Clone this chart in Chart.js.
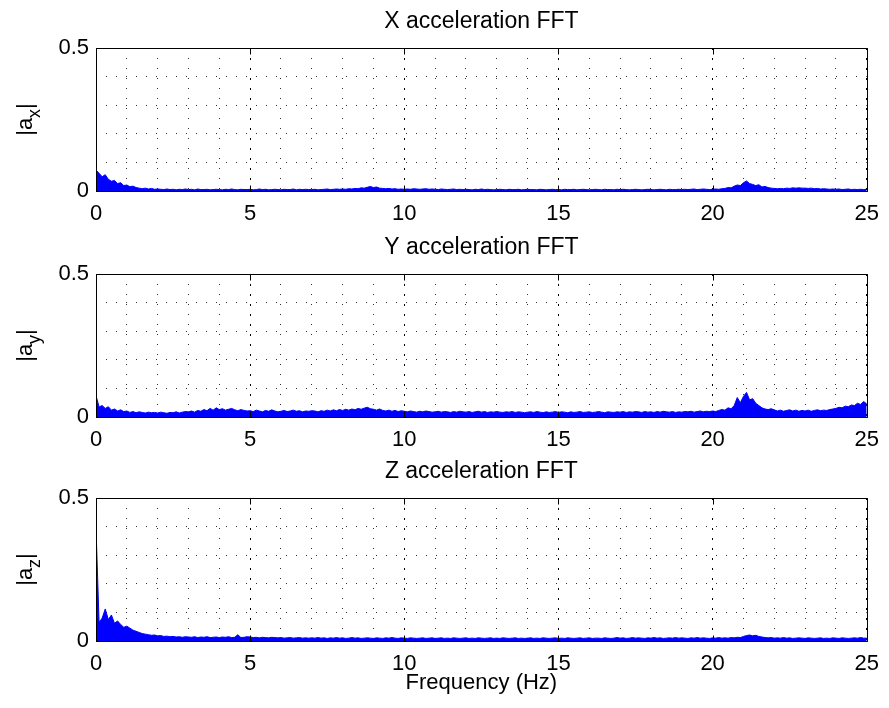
<!DOCTYPE html>
<html>
<head>
<meta charset="utf-8">
<script src="https://cdn.jsdelivr.net/npm/chart.js@4.4.0/dist/chart.umd.min.js"></script>
<style>
    body { margin: 0; background: #fff; }
    #wrap { position: relative; width: 889px; height: 708px; }
    canvas { position: absolute; left: 0; }
</style>
</head>
<body>
<div id="wrap">
    <canvas id="chartX" width="889" height="230" style="top:0px"></canvas>
    <canvas id="chartY" width="889" height="225" style="top:230px"></canvas>
    <canvas id="chartZ" width="889" height="253" style="top:455px"></canvas>
</div>
<script>
// frequency bins (Hz)
const freqs = [
    0, 0.1, 0.2, 0.3, 0.4, 0.5, 0.6, 0.7, 0.8, 0.9,
    1, 1.1, 1.2, 1.3, 1.4, 1.5, 1.6, 1.7, 1.8, 1.9,
    2, 2.1, 2.2, 2.3, 2.4, 2.5, 2.6, 2.7, 2.8, 2.9,
    3, 3.1, 3.2, 3.3, 3.4, 3.5, 3.6, 3.7, 3.8, 3.9,
    4, 4.1, 4.2, 4.3, 4.4, 4.5, 4.6, 4.7, 4.8, 4.9,
    5, 5.1, 5.2, 5.3, 5.4, 5.5, 5.6, 5.7, 5.8, 5.9,
    6, 6.1, 6.2, 6.3, 6.4, 6.5, 6.6, 6.7, 6.8, 6.9,
    7, 7.1, 7.2, 7.3, 7.4, 7.5, 7.6, 7.7, 7.8, 7.9,
    8, 8.1, 8.2, 8.3, 8.4, 8.5, 8.6, 8.7, 8.8, 8.9,
    9, 9.1, 9.2, 9.3, 9.4, 9.5, 9.6, 9.7, 9.8, 9.9,
    10, 10.1, 10.2, 10.3, 10.4, 10.5, 10.6, 10.7, 10.8, 10.9,
    11, 11.1, 11.2, 11.3, 11.4, 11.5, 11.6, 11.7, 11.8, 11.9,
    12, 12.1, 12.2, 12.3, 12.4, 12.5, 12.6, 12.7, 12.8, 12.9,
    13, 13.1, 13.2, 13.3, 13.4, 13.5, 13.6, 13.7, 13.8, 13.9,
    14, 14.1, 14.2, 14.3, 14.4, 14.5, 14.6, 14.7, 14.8, 14.9,
    15, 15.1, 15.2, 15.3, 15.4, 15.5, 15.6, 15.7, 15.8, 15.9,
    16, 16.1, 16.2, 16.3, 16.4, 16.5, 16.6, 16.7, 16.8, 16.9,
    17, 17.1, 17.2, 17.3, 17.4, 17.5, 17.6, 17.7, 17.8, 17.9,
    18, 18.1, 18.2, 18.3, 18.4, 18.5, 18.6, 18.7, 18.8, 18.9,
    19, 19.1, 19.2, 19.3, 19.4, 19.5, 19.6, 19.7, 19.8, 19.9,
    20, 20.1, 20.2, 20.3, 20.4, 20.5, 20.6, 20.7, 20.8, 20.9,
    21, 21.1, 21.2, 21.3, 21.4, 21.5, 21.6, 21.7, 21.8, 21.9,
    22, 22.1, 22.2, 22.3, 22.4, 22.5, 22.6, 22.7, 22.8, 22.9,
    23, 23.1, 23.2, 23.3, 23.4, 23.5, 23.6, 23.7, 23.8, 23.9,
    24, 24.1, 24.2, 24.3, 24.4, 24.5, 24.6, 24.7, 24.8, 24.9,
    25
];

// |a_x|
const ampX = [
    0.073, 0.062, 0.050, 0.057, 0.041, 0.034, 0.037, 0.026, 0.029, 0.019,
    0.021, 0.015, 0.017, 0.012, 0.010, 0.008, 0.010, 0.007, 0.009, 0.006,
    0.007, 0.006, 0.005, 0.007, 0.005, 0.006, 0.004, 0.006, 0.005, 0.007,
    0.005, 0.006, 0.004, 0.007, 0.005, 0.005, 0.006, 0.004, 0.005, 0.006,
    0.005, 0.004, 0.006, 0.005, 0.007, 0.005, 0.004, 0.006, 0.005, 0.005,
    0.006, 0.004, 0.005, 0.007, 0.005, 0.006, 0.004, 0.005, 0.006, 0.005,
    0.004, 0.006, 0.005, 0.005, 0.007, 0.004, 0.006, 0.005, 0.006, 0.005,
    0.005, 0.006, 0.004, 0.005, 0.006, 0.007, 0.005, 0.006, 0.007, 0.006,
    0.007, 0.006, 0.008, 0.007, 0.009, 0.008, 0.011, 0.010, 0.013, 0.016,
    0.012, 0.014, 0.010, 0.009, 0.008, 0.009, 0.007, 0.008, 0.006, 0.007,
    0.006, 0.007, 0.006, 0.008, 0.007, 0.006, 0.007, 0.008, 0.006, 0.007,
    0.006, 0.005, 0.007, 0.006, 0.005, 0.006, 0.007, 0.005, 0.006, 0.005,
    0.006, 0.005, 0.004, 0.006, 0.005, 0.007, 0.005, 0.006, 0.005, 0.004,
    0.005, 0.006, 0.005, 0.004, 0.006, 0.005, 0.005, 0.006, 0.004, 0.005,
    0.006, 0.005, 0.005, 0.004, 0.006, 0.005, 0.004, 0.005, 0.006, 0.005,
    0.005, 0.004, 0.006, 0.005, 0.005, 0.006, 0.004, 0.005, 0.006, 0.005,
    0.004, 0.005, 0.006, 0.005, 0.004, 0.006, 0.005, 0.005, 0.004, 0.006,
    0.005, 0.006, 0.005, 0.004, 0.005, 0.006, 0.005, 0.004, 0.005, 0.006,
    0.005, 0.004, 0.005, 0.006, 0.005, 0.004, 0.006, 0.005, 0.005, 0.006,
    0.005, 0.006, 0.005, 0.006, 0.007, 0.005, 0.006, 0.007, 0.006, 0.005,
    0.006, 0.007, 0.006, 0.008, 0.009, 0.012, 0.011, 0.017, 0.021, 0.019,
    0.029, 0.035, 0.026, 0.023, 0.019, 0.022, 0.014, 0.016, 0.012, 0.010,
    0.009, 0.008, 0.009, 0.008, 0.010, 0.009, 0.011, 0.010, 0.011, 0.010,
    0.010, 0.009, 0.010, 0.008, 0.009, 0.007, 0.008, 0.007, 0.006, 0.007,
    0.006, 0.007, 0.005, 0.006, 0.007, 0.005, 0.006, 0.005, 0.006, 0.005,
    0.006
];

// |a_y|
const ampY = [
    0.075, 0.035, 0.040, 0.030, 0.036, 0.024, 0.028, 0.021, 0.025, 0.019,
    0.021, 0.016, 0.019, 0.015, 0.018, 0.016, 0.014, 0.017, 0.015, 0.016,
    0.014, 0.017, 0.015, 0.013, 0.016, 0.015, 0.018, 0.014, 0.017, 0.019,
    0.018, 0.021, 0.017, 0.023, 0.020, 0.026, 0.022, 0.030, 0.024, 0.032,
    0.026, 0.029, 0.024, 0.027, 0.030, 0.025, 0.022, 0.026, 0.023, 0.021,
    0.022, 0.019, 0.024, 0.021, 0.018, 0.023, 0.020, 0.025, 0.021, 0.018,
    0.020, 0.023, 0.019, 0.021, 0.024, 0.020, 0.022, 0.018, 0.021, 0.020,
    0.022, 0.021, 0.018, 0.022, 0.020, 0.024, 0.021, 0.025, 0.022, 0.026,
    0.023, 0.027, 0.024, 0.028, 0.025, 0.030, 0.027, 0.031, 0.034, 0.029,
    0.027, 0.024, 0.028, 0.023, 0.021, 0.024, 0.020, 0.023, 0.019, 0.022,
    0.020, 0.018, 0.021, 0.019, 0.017, 0.020, 0.018, 0.021, 0.019, 0.017,
    0.018, 0.020, 0.017, 0.019, 0.018, 0.016, 0.019, 0.017, 0.020, 0.018,
    0.017, 0.019, 0.016, 0.018, 0.020, 0.017, 0.019, 0.016, 0.018, 0.017,
    0.019, 0.017, 0.016, 0.018, 0.017, 0.019, 0.016, 0.018, 0.017, 0.015,
    0.017, 0.018, 0.016, 0.019, 0.017, 0.015, 0.018, 0.016, 0.017, 0.019,
    0.016, 0.018, 0.017, 0.015, 0.018, 0.016, 0.017, 0.019, 0.016, 0.017,
    0.018, 0.016, 0.017, 0.019, 0.017, 0.015, 0.018, 0.017, 0.016, 0.018,
    0.017, 0.019, 0.016, 0.018, 0.017, 0.019, 0.018, 0.016, 0.019, 0.017,
    0.018, 0.016, 0.019, 0.017, 0.020, 0.018, 0.017, 0.019, 0.016, 0.018,
    0.017, 0.019, 0.018, 0.020, 0.017, 0.019, 0.021, 0.018, 0.020, 0.019,
    0.021, 0.019, 0.023, 0.026, 0.024, 0.032, 0.029, 0.040, 0.068, 0.050,
    0.072, 0.086, 0.060, 0.064, 0.048, 0.040, 0.032, 0.028, 0.026, 0.029,
    0.025, 0.021, 0.024, 0.020, 0.023, 0.025, 0.021, 0.024, 0.020, 0.023,
    0.021, 0.024, 0.020, 0.023, 0.025, 0.022, 0.024, 0.023, 0.026, 0.028,
    0.030, 0.034, 0.032, 0.038, 0.036, 0.042, 0.040, 0.048, 0.044, 0.054,
    0.046
];

// |a_z|
const ampZ = [
    0.395, 0.065, 0.080, 0.112, 0.075, 0.091, 0.062, 0.070, 0.058, 0.048,
    0.052, 0.045, 0.038, 0.034, 0.030, 0.026, 0.024, 0.022, 0.020, 0.021,
    0.018, 0.019, 0.016, 0.017, 0.015, 0.016, 0.014, 0.015, 0.013, 0.015,
    0.014, 0.013, 0.015, 0.012, 0.014, 0.013, 0.015, 0.012, 0.013, 0.014,
    0.012, 0.014, 0.013, 0.015, 0.012, 0.013, 0.022, 0.012, 0.013, 0.015,
    0.014, 0.012, 0.013, 0.011, 0.013, 0.012, 0.011, 0.013, 0.012, 0.011,
    0.012, 0.010, 0.011, 0.012, 0.010, 0.011, 0.012, 0.010, 0.011, 0.010,
    0.011, 0.010, 0.012, 0.010, 0.011, 0.009, 0.011, 0.010, 0.012, 0.010,
    0.011, 0.009, 0.010, 0.012, 0.010, 0.011, 0.009, 0.010, 0.011, 0.010,
    0.009, 0.011, 0.010, 0.009, 0.011, 0.010, 0.012, 0.010, 0.009, 0.011,
    0.010, 0.009, 0.011, 0.010, 0.009, 0.010, 0.011, 0.009, 0.010, 0.011,
    0.009, 0.010, 0.011, 0.009, 0.010, 0.009, 0.011, 0.010, 0.009, 0.010,
    0.011, 0.009, 0.010, 0.009, 0.011, 0.010, 0.009, 0.010, 0.011, 0.009,
    0.010, 0.009, 0.011, 0.010, 0.009, 0.010, 0.011, 0.009, 0.010, 0.009,
    0.010, 0.011, 0.009, 0.010, 0.009, 0.011, 0.010, 0.009, 0.010, 0.011,
    0.009, 0.010, 0.009, 0.011, 0.010, 0.009, 0.010, 0.011, 0.009, 0.010,
    0.011, 0.009, 0.010, 0.010, 0.009, 0.011, 0.010, 0.009, 0.010, 0.012,
    0.010, 0.011, 0.009, 0.010, 0.012, 0.010, 0.011, 0.010, 0.009, 0.011,
    0.010, 0.012, 0.010, 0.011, 0.009, 0.010, 0.011, 0.010, 0.012, 0.010,
    0.011, 0.010, 0.009, 0.011, 0.010, 0.012, 0.010, 0.011, 0.010, 0.009,
    0.011, 0.010, 0.012, 0.010, 0.011, 0.010, 0.012, 0.011, 0.013, 0.012,
    0.016, 0.019, 0.021, 0.018, 0.020, 0.016, 0.014, 0.012, 0.011, 0.012,
    0.010, 0.011, 0.010, 0.012, 0.010, 0.011, 0.009, 0.010, 0.011, 0.010,
    0.009, 0.011, 0.010, 0.009, 0.010, 0.011, 0.009, 0.010, 0.009, 0.011,
    0.010, 0.009, 0.011, 0.010, 0.009, 0.010, 0.011, 0.010, 0.012, 0.010,
    0.010
];

const xTickLabels = [0, 5, 10, 15, 20, 25];
const yTickLabels = [0, 0.5];
const titles = ['X acceleration FFT', 'Y acceleration FFT', 'Z acceleration FFT'];
const subs = ['x', 'y', 'z'];

const FONT = "'Liberation Sans', Arial, Helvetica, sans-serif";

function isMajorX(v) {
    return xTickLabels.some(t => Math.abs(t - v) < 1e-6);
}
function isMajorY(v) {
    return yTickLabels.some(t => Math.abs(t - v) < 1e-6);
}

// box, inward ticks, title and |a_?| label, matlab style
const matlabAxes = {
    id: 'matlabAxes',
    afterDraw(chart, args, opts) {
        const ctx = chart.ctx;
        const a = chart.chartArea;
        const xs = chart.scales.x;
        const ys = chart.scales.y;
        const L = Math.round(a.left) + 0.5, R = Math.round(a.right) + 0.5;
        const T = Math.round(a.top) + 0.5, B = Math.round(a.bottom) + 0.5;
        ctx.save();
        ctx.strokeStyle = '#000';
        ctx.lineWidth = 1;
        ctx.beginPath();
        ctx.rect(L, T, R - L, B - T);
        xTickLabels.forEach(v => {
            const px = Math.round(xs.getPixelForValue(v)) + 0.5;
            ctx.moveTo(px, B); ctx.lineTo(px, B - 6);
            ctx.moveTo(px, T); ctx.lineTo(px, T + 6);
        });
        yTickLabels.forEach(v => {
            const py = Math.round(ys.getPixelForValue(v)) + 0.5;
            ctx.moveTo(L, py); ctx.lineTo(L + 6, py);
            ctx.moveTo(R, py); ctx.lineTo(R - 6, py);
        });
        ctx.stroke();

        ctx.fillStyle = '#000';
        ctx.font = '23px ' + FONT;
        ctx.textAlign = 'center';
        ctx.textBaseline = 'alphabetic';
        ctx.fillText(opts.title, (a.left + a.right) / 2, a.top - 20);

        // rotated y label with subscript
        ctx.translate(32, (a.top + a.bottom) / 2);
        ctx.rotate(-Math.PI / 2);
        ctx.textAlign = 'left';
        const big = '22px ' + FONT, small = '18px ' + FONT;
        ctx.font = big;
        const w1 = ctx.measureText('|a').width;
        const w3 = ctx.measureText('|').width;
        ctx.font = small;
        const w2 = ctx.measureText(opts.sub).width;
        let x0 = -(w1 + w2 + w3) / 2;
        ctx.font = big;
        ctx.fillText('|a', x0, 0);
        ctx.font = small;
        ctx.fillText(opts.sub, x0 + w1, 8);
        ctx.font = big;
        ctx.fillText('|', x0 + w1 + w2, 0);
        ctx.restore();
    }
};

function makePanel(id, values, idx, padTop, xAxisHeight, showXTitle) {
    const points = freqs.map((f, i) => ({x: f, y: values[i]}));
    return new Chart(document.getElementById(id), {
        type: 'line',
        data: {
            datasets: [{
                data: points,
                borderColor: '#0000ff',
                backgroundColor: '#0000ff',
                borderWidth: 1,
                fill: 'origin',
                pointRadius: 0,
                tension: 0
            }]
        },
        options: {
            responsive: false,
            animation: false,
            devicePixelRatio: 1,
            layout: {padding: {top: padTop, right: 18, left: 0, bottom: 0}},
            plugins: {
                legend: {display: false},
                tooltip: {enabled: false},
                matlabAxes: {title: titles[idx], sub: subs[idx]}
            },
            scales: {
                x: {
                    type: 'linear',
                    min: 0,
                    max: 25,
                    afterFit: s => { s.height = xAxisHeight; },
                    ticks: {
                        stepSize: 1,
                        autoSkip: false,
                        maxRotation: 0,
                        padding: 10,
                        color: '#000',
                        font: {family: FONT, size: 22},
                        callback: v => isMajorX(v) ? String(v) : ''
                    },
                    grid: {
                        drawTicks: false,
                        lineWidth: 1,
                        color: c => (c.tick && isMajorX(c.tick.value)) ? '#000' : '#333'
                    },
                    border: {
                        display: false,
                        dash: c => (c.tick && isMajorX(c.tick.value)) ? [2, 8] : [1, 9]
                    },
                    title: {
                        display: showXTitle,
                        text: 'Frequency (Hz)',
                        color: '#000',
                        font: {family: FONT, size: 22},
                        padding: {top: 0, bottom: 12}
                    }
                },
                y: {
                    min: 0,
                    max: 0.5,
                    afterFit: s => { s.width = 96; },
                    ticks: {
                        stepSize: 0.1,
                        autoSkip: false,
                        padding: 7,
                        color: '#000',
                        font: {family: FONT, size: 22},
                        callback: v => isMajorY(v) ? (Math.abs(v) < 1e-6 ? '0' : '0.5') : ''
                    },
                    grid: {
                        drawTicks: false,
                        lineWidth: 1,
                        color: '#333'
                    },
                    border: {
                        display: false,
                        dash: [1, 9]
                    }
                }
            }
        },
        plugins: [matlabAxes]
    });
}

makePanel('chartX', ampX, 0, 48, 39, false);
makePanel('chartY', ampY, 1, 44, 38, false);
makePanel('chartZ', ampZ, 2, 43, 67, true);
</script>
</body>
</html>
